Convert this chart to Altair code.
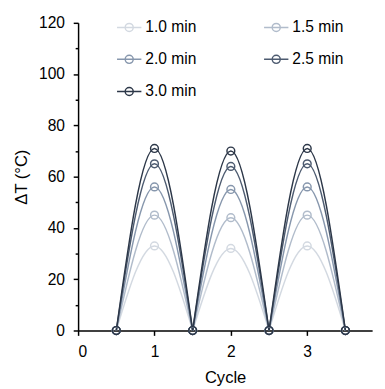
import altair as alt
import pandas as pd

series = ["1.0 min", "1.5 min", "2.0 min", "2.5 min", "3.0 min"]
colors = ["#d3d9e1", "#b1bccb", "#8797ad", "#4d5b70", "#2c3748"]
cycles = [1, 2, 3]
peaks_1p0 = [33, 32, 33]
peaks_1p5 = [45, 44, 45]
peaks_2p0 = [56, 55, 56]
peaks_2p5 = [65, 64, 65]
peaks_3p0 = [71, 70, 71]
trough_value = 0
half_cycle = 0.5

peaks = [peaks_1p0, peaks_1p5, peaks_2p0, peaks_2p5, peaks_3p0]

line_rows = []
point_rows = {}
for s, pk in zip(series, peaks):
    for c, p in zip(cycles, pk):
        seq = [(c - half_cycle, trough_value), (c, p), (c + half_cycle, trough_value)]
        for k, (x, v) in enumerate(seq):
            line_rows.append({"series": s, "seg": f"{s}-{c}", "cycle": x, "dT": v, "k": k})
            point_rows[(s, x)] = v
df_lines = pd.DataFrame(line_rows)
df_points = pd.DataFrame([{"series": s, "cycle": x, "dT": v} for (s, x), v in point_rows.items()])

FONT = "Liberation Sans"
sym_path = "M-1,0H1M0.33,0A0.33,0.33 0 1,1 -0.33,0A0.33,0.33 0 1,1 0.33,0"

x_enc = alt.X("cycle:Q", scale=alt.Scale(domain=[0, 3.85], nice=False),
              axis=alt.Axis(values=[0, 1, 2, 3], title="Cycle", format="d",
                            labelPadding=9, titlePadding=10))
y_enc = alt.Y("dT:Q", scale=alt.Scale(domain=[0, 120], nice=False),
              axis=alt.Axis(values=list(range(0, 121, 10)), title="ΔT (°C)",
                            labelPadding=9, titlePadding=8,
                            labelExpr="datum.value % 20 === 0 ? datum.label : ''",
                            tickSize={"condition": {"test": "datum.value % 20 === 0", "value": 5}, "value": 3}))

legend = alt.Legend(
    title=None, orient="none", legendX=39, legendY=-9, columns=2, direction="horizontal",
    columnPadding=66, rowPadding=11, labelFontSize=16, labelFont=FONT,
    labelColor="black", labelOffset=3, symbolType=sym_path, symbolSize=625,
    symbolStrokeWidth=1.5, symbolFillColor="transparent")

color_enc = alt.Color("series:N", scale=alt.Scale(domain=series, range=colors), legend=legend)

lines = alt.Chart(df_lines).mark_line(interpolate="natural", strokeWidth=1.5).encode(
    x=x_enc, y=y_enc, color=color_enc, detail="seg:N", order="k:Q",
)

points = alt.Chart(df_points).mark_point(shape="circle", filled=False, size=64, strokeWidth=1.5, opacity=1).encode(
    x=x_enc, y=y_enc, color=color_enc,
)

chart = alt.layer(lines, points).properties(
    width=302, height=316,
    padding={"top": 1, "left": 5, "right": 5, "bottom": 5},
).configure_view(stroke=None).configure_axis(
    grid=False, domainColor="black", tickColor="black", labelColor="black", titleColor="black",
    labelFont=FONT, titleFont=FONT, labelFontSize=16, titleFontSize=17, titleFontWeight="normal",
    domainWidth=1.5, tickWidth=1.5,
)

chart.save("out.html", embed_options={"renderer": "svg", "actions": False})
